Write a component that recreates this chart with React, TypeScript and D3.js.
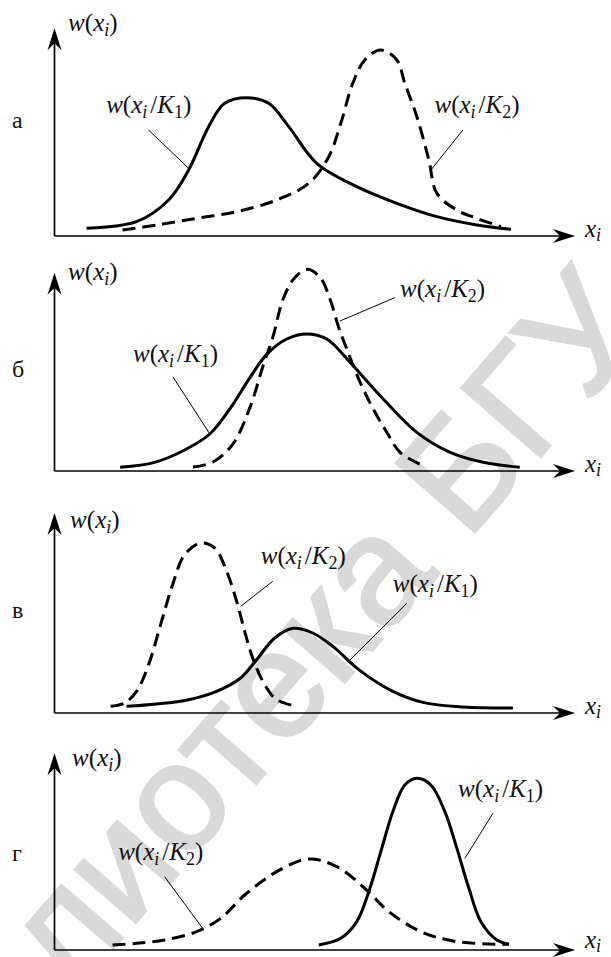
import React from 'react';
import * as d3 from 'd3';

const W = 611;
const H = 957;

// panel letters (Cyrillic)
const panelLetters = ['а', 'б', 'в', 'г'];

// curves: [x, w] in arbitrary units (x: 0..130, w: height above axis)
const aK1: [number, number][] = [
  [8.0, 2.3], [20.5, 4.3], [28.5, 10.8], [33.5, 19.8], [38.5, 32.8], [42.5, 39.8], [48.0, 41.5],
  [53.5, 39.8], [58.5, 32.8], [65.5, 21.8], [75.5, 14.8], [85.5, 9.8], [95.5, 5.8], [105.5, 3.3], [114.0, 2.0],
];
const aK2: [number, number][] = [
  [17.0, 1.8], [25.5, 3.3], [35.5, 5.3], [45.5, 7.3], [55.5, 10.8], [63.5, 15.8], [68.5, 23.8], [71.5, 33.8],
  [74.5, 45.8], [77.5, 52.8], [81.5, 55.8], [85.5, 52.8], [87.5, 45.8], [90.5, 35.8], [93.5, 22.8],
  [95.5, 12.8], [100.5, 7.8], [105.5, 5.3], [111.5, 2.8],
];
const bK1: [number, number][] = [
  [16.4, 1.1], [25.0, 2.6], [32.0, 6.0], [38.8, 11.1], [44.0, 19.0], [48.8, 28.0], [53.0, 35.0], [58.0, 39.6],
  [63.0, 41.1], [68.0, 39.6], [73.8, 32.6], [78.0, 27.0], [82.1, 21.6], [90.5, 11.6], [98.8, 5.6],
  [107.1, 2.6], [116.2, 1.1],
];
const bK2: [number, number][] = [
  [34.6, 1.2], [39.6, 2.7], [44.5, 8.0], [48.8, 19.0], [52.1, 31.6], [54.5, 40.0], [57.1, 51.6], [60.0, 58.0],
  [63.2, 60.5], [66.4, 58.0], [68.8, 51.6], [71.0, 43.0], [73.0, 36.6], [76.3, 26.7], [79.6, 18.6],
  [83.0, 11.6], [86.3, 5.6], [92.1, 1.6],
];
const vK2: [number, number][] = [
  [14.0, 2.0], [17.5, 3.0], [20.5, 6.5], [23.5, 14.5], [26.5, 26.5], [29.5, 38.5], [32.5, 47.5], [36.5, 51.0],
  [40.0, 49.5], [43.0, 42.5], [45.5, 33.5], [47.5, 24.5], [49.5, 16.5], [52.5, 8.5], [55.5, 4.0], [60.5, 2.0],
];
const vK1: [number, number][] = [
  [18.0, 2.0], [25.5, 2.7], [33.5, 4.0], [40.5, 6.5], [46.5, 10.5], [50.5, 16.0], [55.0, 22.5], [59.6, 25.4],
  [64.5, 24.0], [69.6, 19.9], [76.0, 13.0], [84.0, 6.8], [92.0, 3.2], [102.0, 1.8], [114.5, 1.5],
];
const gK2: [number, number][] = [
  [14.5, 1.5], [20.5, 2.0], [27.5, 3.0], [35.5, 5.5], [41.5, 9.5], [47.5, 16.5], [55.5, 23.5], [63.5, 27.3],
  [70.5, 25.0], [77.5, 18.5], [83.5, 11.5], [91.5, 5.5], [100.5, 2.5], [113.5, 1.7],
];
const gK1: [number, number][] = [
  [66.0, 1.5], [71.5, 3.5], [75.5, 8.5], [78.5, 17.5], [81.5, 29.5], [84.5, 41.5], [87.5, 49.5], [90.5, 51.5],
  [94.0, 49.5], [97.5, 41.5], [100.5, 30.5], [103.5, 18.5], [106.5, 8.5], [110.5, 3.0], [113.5, 1.7],
];

const xMax = 130;
const serif = "'Liberation Serif', 'Times New Roman', serif";

type Pt = [number, number];
type PanelCfg = {
  letter: string;
  k1: Pt[];
  k2: Pt[];
  axisY: number;
  yMax: number;
  letterY: number;
  titlePos: Pt;
  k1Label: Pt;
  k2Label: Pt;
  k1Leader: [Pt, Pt];
  k2Leader: [Pt, Pt];
};

const panels: PanelCfg[] = [
  {
    letter: panelLetters[0], k1: aK1, k2: aK2, axisY: 236, yMax: 62.3, letterY: 128,
    titlePos: [3.4, 61.5], k1Label: [12.9, 36.9], k2Label: [94.9, 36.9],
    k1Leader: [[23.5, 31.8], [33.5, 20.3]], k2Leader: [[102, 31.8], [94, 19.8]],
  },
  {
    letter: panelLetters[1], k1: bK1, k2: bK2, axisY: 471, yMax: 59.5, letterY: 377,
    titlePos: [3.4, 57.3], k1Label: [19.6, 32.7], k2Label: [86.3, 52.2],
    k1Leader: [[29.6, 28.2], [38.8, 11.1]], k2Leader: [[85.0, 52.0], [71.3, 45.0]],
  },
  {
    letter: panelLetters[2], k1: vK1, k2: vK2, axisY: 713, yMax: 60, letterY: 618,
    titlePos: [3.9, 55.5], k1Label: [84.5, 36.3], k2Label: [51.5, 44.7],
    k1Leader: [[88, 32.9], [73.8, 15.9]], k2Leader: [[54.5, 39.5], [46.5, 32]],
  },
  {
    letter: panelLetters[3], k1: gK1, k2: gK2, axisY: 950, yMax: 59, letterY: 861,
    titlePos: [4.4, 55.2], k1Label: [100.8, 46], k2Label: [15.9, 27],
    k1Leader: [[109.5, 41], [102.5, 27.5]], k2Leader: [[27.5, 22], [37, 6.5]],
  },
];

const x = d3.scaleLinear().domain([0, xMax]).range([54.5, 575]);

function WLabel({ px, py, k }: { px: number; py: number; k?: string }) {
  return (
    <text x={px} y={py} fontFamily={serif} fontSize={25} fill="#111">
      <tspan fontStyle="italic">w</tspan>
      <tspan>(</tspan>
      <tspan fontStyle="italic">x</tspan>
      <tspan fontStyle="italic" fontSize={18} dy={5}>i</tspan>
      {k ? (
        <>
          <tspan dx={3} dy={-5}>/</tspan>
          <tspan fontStyle="italic">K</tspan>
          <tspan fontSize={18} dy={5}>{k}</tspan>
          <tspan dy={-5}>)</tspan>
        </>
      ) : (
        <tspan dy={-5}>)</tspan>
      )}
    </text>
  );
}

function Panel({ p, last }: { p: PanelCfg; last: boolean }) {
  const y = d3.scaleLinear().domain([0, p.yMax]).range([p.axisY, p.axisY - p.yMax * (10 / 3)]);
  const line = d3
    .line<Pt>()
    .x((d) => x(d[0]))
    .y((d) => y(d[1]))
    .curve(d3.curveCatmullRom.alpha(0.5));
  const x0 = x(0);
  const x1 = x(xMax);
  const y0 = y(0);
  const yTop = y(p.yMax);
  const L = 22;
  const hw = 7;
  const notch = 7;
  return (
    <g>
      <line x1={x0} y1={y0} x2={x0} y2={yTop + notch} stroke="#000" strokeWidth={1.7} />
      <line x1={x0} y1={y0} x2={x1 - notch} y2={y0} stroke="#000" strokeWidth={1.7} />
      <path
        d={`M${x0},${yTop} L${x0 - hw},${yTop + L} L${x0},${yTop + L - notch} L${x0 + hw},${yTop + L} Z`}
        fill="#000"
      />
      <path
        d={`M${x1},${y0} L${x1 - L},${y0 - hw} L${x1 - L + notch},${y0} L${x1 - L},${y0 + hw} Z`}
        fill="#000"
      />
      <path d={line(p.k2) ?? ''} fill="none" stroke="#000" strokeWidth={3} strokeDasharray="13 7" />
      <path d={line(p.k1) ?? ''} fill="none" stroke="#000" strokeWidth={3} />
      {[p.k1Leader, p.k2Leader].map((l, i) => (
        <line
          key={i}
          x1={x(l[0][0])}
          y1={y(l[0][1])}
          x2={x(l[1][0])}
          y2={y(l[1][1])}
          stroke="#000"
          strokeWidth={1}
        />
      ))}
      <WLabel px={x(p.titlePos[0])} py={y(p.titlePos[1])} />
      <WLabel px={x(p.k1Label[0])} py={y(p.k1Label[1])} k="1" />
      <WLabel px={x(p.k2Label[0])} py={y(p.k2Label[1])} k="2" />
      <text x={12} y={p.letterY} fontFamily={serif} fontSize={24} fill="#111">
        {p.letter}
      </text>
      <text x={585} y={last ? y0 - 2 : y0 + 1} fontFamily={serif} fontSize={25} fill="#111">
        <tspan fontStyle="italic">x</tspan>
        <tspan fontStyle="italic" fontSize={18} dy={4}>i</tspan>
      </text>
    </g>
  );
}

export default function App() {
  return (
    <svg
      width={W}
      height={H}
      viewBox={`0 0 ${W} ${H}`}
      style={{ position: 'absolute', left: 0, top: 0, background: '#fff' }}
    >
      <rect width={W} height={H} fill="#fff" />
      <text
        transform="translate(-103,1197) rotate(-49)"
        fontFamily="'Liberation Sans', Arial, sans-serif"
        fontSize={152}
        fill="#d9d9d9"
        stroke="#d9d9d9"
        strokeWidth={3}
      >
        Библиотека БГУ
      </text>
      {panels.map((p, i) => (
        <Panel key={p.letter} p={p} last={i === panels.length - 1} />
      ))}
    </svg>
  );
}
